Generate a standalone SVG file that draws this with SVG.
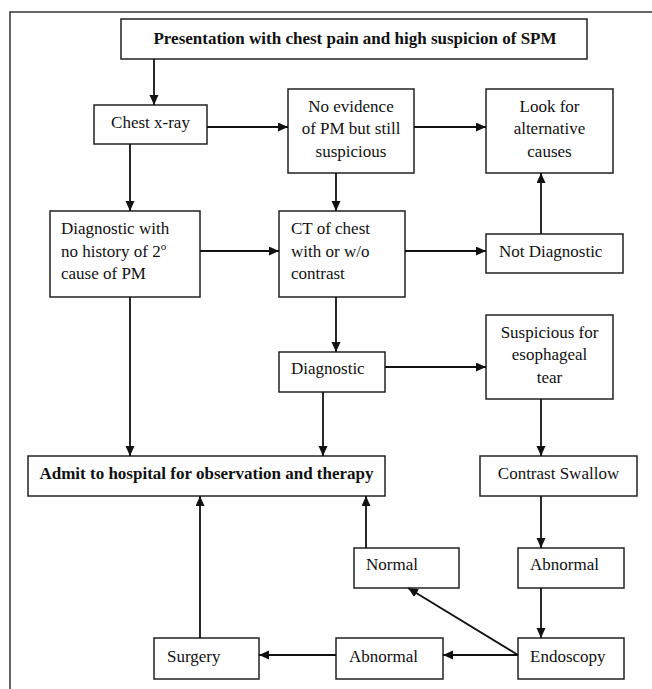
<svg xmlns="http://www.w3.org/2000/svg" width="652" height="689" viewBox="0 0 652 689">
<style>
.box{fill:#fff;stroke:#222;stroke-width:1.5}
text{font-family:'Liberation Serif','DejaVu Serif',serif;font-size:17px;fill:#111}
.c{text-anchor:middle}
.b{font-weight:bold;font-size:17px}
.ln{fill:none;stroke:#111;stroke-width:1.8;marker-end:url(#ah)}
.frame{fill:none;stroke:#333;stroke-width:1.5}
</style>
<defs>
<marker id="ah" markerUnits="userSpaceOnUse" markerWidth="11" markerHeight="10" refX="10" refY="4.5" orient="auto">
<path d="M0,0 L10,4.5 L0,9 z" fill="#111"/>
</marker>
</defs>
<rect width="652" height="689" fill="#fff"/>
<path class="frame" d="M10,689 V12 H652"/>

<g id="title"><rect class="box" x="121" y="19" width="466" height="40"/><text class="b c" x="355" y="44">Presentation with chest pain and high suspicion of SPM</text></g>
<g id="xray"><rect class="box" x="94" y="105" width="113" height="39"/><text class="c" x="150.5" y="128">Chest x-ray</text></g>
<g id="noevidence"><rect class="box" x="288" y="89" width="126" height="84"/><text class="c" x="351" y="112">No evidence</text><text class="c" x="351" y="134">of PM but still</text><text class="c" x="351" y="157">suspicious</text></g>
<g id="lookfor"><rect class="box" x="486" y="89" width="127" height="84"/><text class="c" x="549.5" y="112">Look for</text><text class="c" x="549.5" y="134">alternative</text><text class="c" x="549.5" y="157">causes</text></g>
<g id="diagwith"><rect class="box" x="50" y="211" width="150" height="86"/><text x="61" y="234">Diagnostic with</text><text x="61" y="257">no history of 2<tspan font-size="11" dy="-7">o</tspan></text><text x="61" y="279">cause of PM</text></g>
<g id="ct"><rect class="box" x="279" y="211" width="126" height="86"/><text x="291" y="234">CT of chest</text><text x="291" y="257">with or w/o</text><text x="291" y="279">contrast</text></g>
<g id="notdiag"><rect class="box" x="486" y="234" width="137" height="39"/><text x="499" y="257">Not Diagnostic</text></g>
<g id="diag"><rect class="box" x="279" y="352" width="106" height="40"/><text x="291" y="374">Diagnostic</text></g>
<g id="suspicious"><rect class="box" x="486" y="315" width="127" height="84"/><text class="c" x="549.5" y="338">Suspicious for</text><text class="c" x="549.5" y="360">esophageal</text><text class="c" x="549.5" y="383">tear</text></g>
<g id="admit"><rect class="box" x="28" y="456" width="357" height="40"/><text class="b c" x="206.5" y="479">Admit to hospital for observation and therapy</text></g>
<g id="contrast"><rect class="box" x="480" y="456" width="157" height="40"/><text class="c" x="558.5" y="479">Contrast Swallow</text></g>
<g id="normal"><rect class="box" x="354" y="548" width="105" height="40"/><text x="366" y="570">Normal</text></g>
<g id="abnormal1"><rect class="box" x="518" y="548" width="106" height="40"/><text x="530" y="570">Abnormal</text></g>
<g id="surgery"><rect class="box" x="154" y="638" width="105" height="41"/><text x="167" y="662">Surgery</text></g>
<g id="abnormal2"><rect class="box" x="336" y="638" width="107" height="41"/><text x="349" y="662">Abnormal</text></g>
<g id="endoscopy"><rect class="box" x="518" y="638" width="106" height="41"/><text x="530" y="662">Endoscopy</text></g>

<g id="connectors">
<path class="ln" d="M154,59 V105"/>
<path class="ln" d="M207,127 H288"/>
<path class="ln" d="M414,127 H486"/>
<path class="ln" d="M130,144 V211"/>
<path class="ln" d="M336,173 V211"/>
<path class="ln" d="M200,251 H279"/>
<path class="ln" d="M405,251 H486"/>
<path class="ln" d="M541,234 V173"/>
<path class="ln" d="M336,297 V352"/>
<path class="ln" d="M385,367 H486"/>
<path class="ln" d="M130,297 V456"/>
<path class="ln" d="M323,392 V456"/>
<path class="ln" d="M541,399 V456"/>
<path class="ln" d="M541,496 V548"/>
<path class="ln" d="M541,588 V638"/>
<path class="ln" d="M518,655 H443"/>
<path class="ln" d="M336,655 H259"/>
<path class="ln" d="M200,638 V496"/>
<path class="ln" d="M366,548 V496"/>
<path class="ln" d="M518,655 L408,588"/>
</g>
</svg>
